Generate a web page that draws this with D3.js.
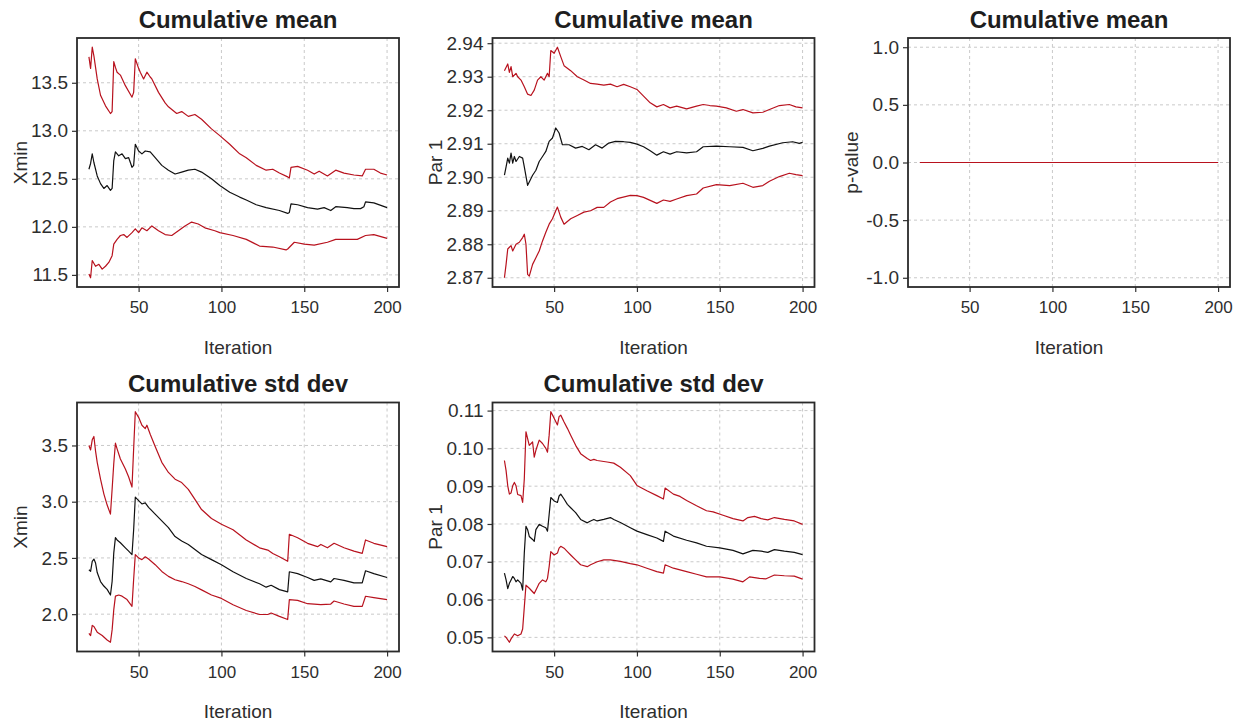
<!DOCTYPE html>
<html>
<head>
<meta charset="utf-8">
<script src="https://cdn.jsdelivr.net/npm/d3@7"></script>
<style>
body{margin:0;background:#fff;}
svg{font-family:"Liberation Sans",Arial,sans-serif;}
</style>
</head>
<body>
<svg id="chart" width="1241" height="723"></svg>
<script>
// iteration axis
const iterationRange = [20, 200];
const iterationTicks = [50, 100, 150, 200];

// Xmin, cumulative mean
const xminMean = [[20,12.60],[21,12.66],[22,12.76],[23,12.67],[25,12.53],[27,12.45],[29,12.40],[31,12.43],[33,12.38],[34,12.40],[35,12.69],[36,12.78],[38,12.74],[40,12.76],[42,12.71],[44,12.72],[46,12.62],[47,12.64],[48,12.86],[50,12.79],[52,12.76],[54,12.79],[57,12.78],[60,12.72],[64,12.64],[68,12.59],[72,12.55],[76,12.57],[80,12.59],[84,12.60],[88,12.57],[94,12.50],[99,12.43],[105,12.36],[111,12.31],[115,12.28],[121,12.23],[127,12.20],[135,12.17],[140,12.14],[141,12.15],[142,12.24],[146,12.23],[152,12.20],[158,12.185],[162,12.20],[166,12.17],[169,12.21],[176,12.20],[180,12.19],[184,12.19],[186,12.21],[187,12.26],[192,12.25],[200,12.20]];
const xminMeanUpper = [[20,13.77],[21,13.65],[22,13.87],[23,13.78],[25,13.54],[27,13.37],[30,13.26],[33,13.18],[34,13.20],[35,13.72],[36,13.66],[37,13.61],[39,13.58],[42,13.47],[46,13.35],[47,13.40],[48,13.75],[50,13.65],[51,13.61],[53,13.54],[55,13.61],[57,13.56],[58,13.54],[62,13.40],[66,13.29],[68,13.25],[73,13.18],[76,13.20],[80,13.15],[84,13.17],[88,13.12],[94,13.02],[99,12.95],[105,12.86],[111,12.76],[115,12.72],[121,12.64],[127,12.59],[131,12.60],[135,12.56],[140,12.52],[141,12.51],[142,12.62],[146,12.63],[152,12.59],[156,12.55],[159,12.58],[164,12.53],[169,12.59],[174,12.56],[180,12.54],[185,12.53],[187,12.60],[192,12.60],[196,12.56],[200,12.54]];
const xminMeanLower = [[20,11.51],[21,11.47],[22,11.65],[24,11.59],[26,11.61],[28,11.56],[30,11.59],[32,11.63],[34,11.70],[35,11.82],[37,11.87],[39,11.91],[41,11.92],[43,11.89],[46,11.94],[48,11.98],[50,11.94],[52,11.99],[55,11.96],[58,12.01],[62,11.96],[66,11.92],[70,11.91],[74,11.96],[78,12.01],[82,12.05],[86,12.03],[90,11.99],[96,11.96],[99,11.94],[107,11.91],[115,11.87],[123,11.80],[131,11.79],[139,11.76],[140,11.77],[144,11.84],[150,11.82],[156,11.81],[164,11.84],[169,11.87],[176,11.87],[182,11.87],[187,11.91],[192,11.92],[200,11.88]];

// Par 1, cumulative mean
const par1Mean = [[20,2.9006],[21,2.9031],[22,2.9057],[23,2.9042],[24,2.9072],[25,2.9042],[26,2.9062],[27,2.9047],[29,2.9062],[31,2.9057],[32,2.9031],[34,2.8976],[35,2.8986],[37,2.9006],[39,2.9021],[41,2.9047],[43,2.9062],[45,2.9077],[47,2.9107],[49,2.9117],[51,2.9147],[53,2.9132],[55,2.9097],[59,2.9097],[63,2.9087],[67,2.9092],[71,2.9082],[75,2.9097],[79,2.9087],[83,2.9102],[87,2.9107],[92,2.9106],[96,2.9104],[100,2.9099],[104,2.9091],[108,2.9079],[112,2.9066],[116,2.9076],[120,2.9069],[124,2.9076],[130,2.9073],[136,2.9076],[140,2.9091],[148,2.9093],[156,2.9091],[164,2.9089],[170,2.9079],[176,2.9086],[180,2.9093],[188,2.9103],[194,2.9106],[198,2.9101],[200,2.9104]];
const par1MeanUpper = [[20,2.9318],[22,2.9338],[23,2.9313],[24,2.9330],[25,2.9300],[27,2.9310],[28,2.9300],[30,2.9290],[32,2.9270],[34,2.9248],[36,2.9244],[38,2.9260],[40,2.9290],[42,2.9300],[44,2.9290],[46,2.9310],[47,2.9300],[48,2.9378],[50,2.9370],[52,2.9388],[54,2.9360],[56,2.9333],[60,2.9318],[64,2.9300],[68,2.9290],[72,2.9280],[76,2.9278],[80,2.9275],[84,2.9278],[88,2.9270],[92,2.9277],[96,2.9270],[100,2.9262],[104,2.9242],[108,2.9222],[112,2.9210],[116,2.9217],[120,2.9207],[124,2.9212],[130,2.9204],[136,2.9212],[140,2.9217],[144,2.9214],[148,2.9212],[154,2.9207],[160,2.9197],[164,2.9202],[170,2.9192],[176,2.9194],[180,2.9202],[186,2.9214],[192,2.9217],[196,2.9210],[200,2.9207]];
const par1MeanLower = [[20,2.8700],[21,2.8740],[22,2.8786],[24,2.8796],[25,2.8780],[27,2.8800],[29,2.8806],[31,2.8820],[32,2.8830],[33,2.8800],[34,2.8710],[35,2.8705],[37,2.8740],[39,2.8760],[41,2.8780],[43,2.8810],[45,2.8836],[47,2.8860],[49,2.8876],[51,2.8900],[52,2.8911],[54,2.8881],[56,2.8860],[60,2.8876],[64,2.8886],[68,2.8896],[72,2.8900],[76,2.8910],[80,2.8910],[84,2.8926],[88,2.8936],[96,2.8946],[100,2.8945],[104,2.8940],[112,2.8922],[116,2.8932],[120,2.8928],[124,2.8935],[130,2.8945],[136,2.8950],[140,2.8968],[148,2.8978],[156,2.8975],[164,2.8982],[170,2.8970],[176,2.8975],[180,2.8988],[186,2.9002],[192,2.9012],[196,2.9008],[200,2.9005]];

// p-value, cumulative mean
const pValueMean = [[20,0],[200,0]];
const pValueUpper = [[20,0],[200,0]];
const pValueLower = [[20,0],[200,0]];

// Xmin, cumulative std dev
const xminSd = [[20,2.395],[21,2.38],[22,2.47],[23,2.49],[24,2.455],[25,2.37],[27,2.29],[29,2.25],[31,2.22],[33,2.17],[34,2.29],[35,2.545],[36,2.68],[37,2.66],[39,2.635],[42,2.59],[44,2.56],[46,2.53],[47,2.75],[48,3.04],[50,3.01],[52,2.98],[54,2.99],[56,2.95],[60,2.89],[64,2.83],[68,2.77],[72,2.69],[76,2.65],[80,2.62],[84,2.575],[88,2.53],[94,2.485],[100,2.44],[107,2.377],[115,2.317],[123,2.27],[127,2.24],[130,2.257],[135,2.218],[140,2.198],[141,2.377],[146,2.36],[152,2.326],[156,2.30],[160,2.314],[166,2.287],[168,2.317],[174,2.30],[180,2.278],[185,2.278],[187,2.386],[192,2.36],[200,2.326]];
const xminSdUpper = [[20,3.50],[21,3.46],[22,3.55],[23,3.58],[24,3.45],[25,3.35],[27,3.20],[29,3.07],[31,2.97],[33,2.89],[34,3.11],[35,3.34],[36,3.52],[37,3.47],[39,3.38],[42,3.29],[44,3.22],[46,3.13],[47,3.47],[48,3.80],[50,3.75],[52,3.68],[54,3.65],[55,3.68],[57,3.60],[60,3.49],[64,3.35],[68,3.26],[72,3.20],[76,3.17],[80,3.11],[84,3.02],[88,2.93],[94,2.85],[100,2.80],[107,2.75],[115,2.66],[123,2.59],[128,2.57],[131,2.54],[135,2.51],[140,2.47],[141,2.71],[146,2.68],[152,2.63],[158,2.60],[160,2.62],[164,2.59],[168,2.63],[174,2.59],[180,2.56],[185,2.54],[187,2.66],[192,2.63],[200,2.60]];
const xminSdLower = [[20,1.83],[21,1.81],[22,1.90],[23,1.89],[25,1.84],[28,1.81],[31,1.77],[33,1.75],[34,1.86],[35,2.04],[36,2.16],[38,2.17],[40,2.16],[43,2.13],[46,2.07],[47,2.31],[48,2.53],[50,2.50],[52,2.485],[54,2.51],[56,2.49],[60,2.44],[64,2.38],[68,2.336],[72,2.306],[76,2.29],[80,2.27],[84,2.246],[88,2.216],[94,2.17],[100,2.14],[107,2.084],[115,2.033],[123,1.997],[128,1.997],[130,2.01],[135,1.98],[140,1.952],[141,2.129],[146,2.123],[152,2.093],[160,2.084],[166,2.09],[168,2.117],[174,2.09],[180,2.069],[185,2.069],[187,2.159],[192,2.147],[200,2.129]];

// Par 1, cumulative std dev
const par1Sd = [[20,0.0670],[21,0.0652],[22,0.0629],[23,0.0643],[24,0.0652],[25,0.0661],[26,0.0656],[27,0.0647],[28,0.0652],[30,0.0643],[31,0.0625],[32,0.0723],[33,0.0794],[34,0.0785],[35,0.0767],[37,0.0759],[38,0.0754],[39,0.0785],[41,0.0799],[43,0.0794],[45,0.0790],[46,0.0781],[47,0.0825],[48,0.0870],[50,0.0861],[52,0.0857],[53,0.0874],[54,0.0879],[56,0.0866],[58,0.0852],[60,0.0843],[63,0.0830],[66,0.0812],[70,0.0803],[72,0.0808],[74,0.0812],[76,0.0808],[80,0.0812],[84,0.0817],[86,0.0812],[90,0.0804],[96,0.0790],[100,0.0781],[106,0.0772],[112,0.0763],[116,0.0754],[117,0.0781],[122,0.0768],[130,0.0757],[136,0.0750],[142,0.0741],[150,0.0737],[158,0.0730],[164,0.0721],[170,0.0730],[175,0.0728],[179,0.0725],[183,0.0732],[189,0.0728],[195,0.0725],[200,0.0719]];
const par1SdUpper = [[20,0.0968],[21,0.0941],[22,0.0901],[23,0.0879],[24,0.0882],[25,0.0901],[26,0.0910],[27,0.0901],[28,0.0878],[30,0.0875],[31,0.0857],[32,0.0919],[33,0.1044],[34,0.1026],[35,0.1008],[37,0.1017],[38,0.0977],[39,0.0995],[41,0.1022],[43,0.1013],[45,0.1000],[46,0.0990],[47,0.1035],[48,0.1097],[50,0.1080],[52,0.1062],[53,0.1084],[54,0.1088],[56,0.1070],[58,0.1053],[60,0.1035],[63,0.1008],[66,0.0986],[70,0.0973],[72,0.0968],[74,0.0971],[76,0.0968],[82,0.0964],[86,0.0961],[90,0.0950],[96,0.0928],[100,0.0902],[106,0.0888],[112,0.0875],[116,0.0866],[117,0.0895],[122,0.0879],[126,0.0873],[130,0.0862],[136,0.0848],[142,0.0835],[146,0.0832],[152,0.0823],[158,0.0814],[164,0.0808],[167,0.0817],[171,0.0820],[175,0.0814],[179,0.0811],[183,0.0817],[189,0.0812],[195,0.0808],[200,0.0799]];
const par1SdLower = [[20,0.0504],[21,0.0500],[23,0.0487],[24,0.0496],[26,0.0509],[28,0.0504],[30,0.0509],[31,0.0522],[32,0.0580],[33,0.0638],[35,0.0630],[38,0.0616],[40,0.0634],[41,0.0643],[43,0.0652],[45,0.0647],[46,0.0656],[47,0.0687],[48,0.0727],[50,0.0718],[52,0.0723],[53,0.0736],[54,0.0741],[56,0.0736],[58,0.0727],[60,0.0718],[63,0.0705],[66,0.0692],[70,0.0687],[72,0.0692],[76,0.0700],[80,0.0705],[84,0.0705],[90,0.0701],[96,0.0695],[100,0.0692],[106,0.0683],[112,0.0674],[116,0.0670],[117,0.0692],[122,0.0683],[130,0.0674],[136,0.0667],[142,0.0660],[150,0.0660],[158,0.0654],[164,0.0647],[168,0.0660],[174,0.0656],[178,0.0655],[183,0.0665],[189,0.0663],[195,0.0662],[200,0.0654]];

// y axis ticks per panel
const xminMeanTicks = [11.5, 12.0, 12.5, 13.0, 13.5];
const par1MeanTicks = [2.87, 2.88, 2.89, 2.90, 2.91, 2.92, 2.93, 2.94];
const pValueTicks = [-1.0, -0.5, 0.0, 0.5, 1.0];
const xminSdTicks = [2.0, 2.5, 3.0, 3.5];
const par1SdTicks = [0.05, 0.06, 0.07, 0.08, 0.09, 0.10, 0.11];

const panels = [
    {col:0,row:0,title:"Cumulative mean",ylab:"Xmin",ticks:xminMeanTicks,dec:1,
        series:[xminMean,xminMeanUpper,xminMeanLower]},
    {col:1,row:0,title:"Cumulative mean",ylab:"Par 1",ticks:par1MeanTicks,dec:2,
        series:[par1Mean,par1MeanUpper,par1MeanLower]},
    {col:2,row:0,title:"Cumulative mean",ylab:"p-value",ticks:pValueTicks,dec:1,fixed:[-1,1],
        series:[pValueMean,pValueUpper,pValueLower]},
    {col:0,row:1,title:"Cumulative std dev",ylab:"Xmin",ticks:xminSdTicks,dec:1,
        series:[xminSd,xminSdUpper,xminSdLower]},
    {col:1,row:1,title:"Cumulative std dev",ylab:"Par 1",ticks:par1SdTicks,dec:2,
        series:[par1Sd,par1SdUpper,par1SdLower]}
];

const RED = "#b8121e";
const GRID = "#c9c9c9";
const BOX_W = 322, BOX_H = 249;

let svg = d3.select("#chart");
svg.append("rect").attr("width",1241).attr("height",723).attr("fill","#fff");

// R style 4% padding around the data range
let padded = function(lo,hi){
    let p = (hi-lo)*0.04;
    return [lo-p,hi+p];
};

let drawPanel = function(p){
    let left = 77 + p.col*415.5;
    let top = 38 + p.row*364.5;
    let g = svg.append("g").attr("transform","translate("+left+","+top+")");

    let x = d3.scaleLinear().domain(padded(iterationRange[0],iterationRange[1])).range([0,BOX_W]);
    let all = p.series.flat().map(d=>d[1]);
    let yDom = p.fixed ? padded(p.fixed[0],p.fixed[1]) : padded(d3.min(all),d3.max(all));
    let y = d3.scaleLinear().domain(yDom).range([BOX_H,0]);

    // dashed grid
    g.append("g").selectAll("line.v").data(iterationTicks).join("line")
        .attr("x1",d=>x(d)).attr("x2",d=>x(d)).attr("y1",0).attr("y2",BOX_H)
        .attr("stroke",GRID).attr("stroke-dasharray","3,3");
    g.append("g").selectAll("line.h").data(p.ticks).join("line")
        .attr("y1",d=>y(d)).attr("y2",d=>y(d)).attr("x1",0).attr("x2",BOX_W)
        .attr("stroke",GRID).attr("stroke-dasharray","3,3");

    let line = d3.line().x(d=>x(d[0])).y(d=>y(d[1]));
    let colors = ["#111",RED,RED];
    p.series.forEach(function(s,i){
        g.append("path").datum(s).attr("d",line)
            .attr("fill","none").attr("stroke",colors[i]).attr("stroke-width",1.2)
            .attr("stroke-linejoin","round");
    });

    let fmt = d3.format("."+p.dec+"f");
    let xAxis = g.append("g").attr("transform","translate(0,"+BOX_H+")")
        .call(d3.axisBottom(x).tickValues(iterationTicks).tickSize(5).tickPadding(9));
    let yAxis = g.append("g")
        .call(d3.axisLeft(y).tickValues(p.ticks).tickSize(5).tickPadding(4)
            .tickFormat(d=>fmt(d).replace("\u2212","-")));
    [xAxis,yAxis].forEach(function(a){
        a.select(".domain").remove();
        a.selectAll(".tick line").attr("stroke","#333").attr("stroke-width",1.2);
        a.selectAll("text").attr("fill","#2e2e2e")
            .style("font-family","'Liberation Sans',Arial,sans-serif");
    });
    xAxis.selectAll("text").style("font-size","17px");
    yAxis.selectAll("text").style("font-size","19px");

    g.append("rect").attr("width",BOX_W).attr("height",BOX_H)
        .attr("fill","none").attr("stroke","#2a2a2a").attr("stroke-width",1.8);

    g.append("text").attr("x",BOX_W/2).attr("y",-19).attr("text-anchor","middle")
        .attr("dominant-baseline","central")
        .style("font-size","24px").style("font-weight","bold").attr("fill","#1e1e1e")
        .text(p.title);
    g.append("text").attr("x",BOX_W/2).attr("y",BOX_H+60).attr("text-anchor","middle")
        .attr("dominant-baseline","central")
        .style("font-size","19px").attr("fill","#2e2e2e").text("Iteration");
    g.append("text").attr("transform","translate(-57,"+(BOX_H/2)+") rotate(-90)")
        .attr("text-anchor","middle").attr("dominant-baseline","central")
        .style("font-size","19px").attr("fill","#2e2e2e").text(p.ylab);
};

panels.forEach(drawPanel);
</script>
</body>
</html>
